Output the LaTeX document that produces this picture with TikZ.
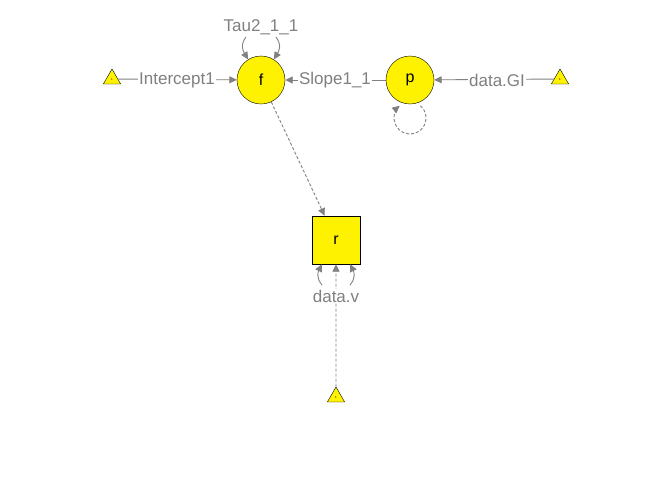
\documentclass[tikz,border=0pt]{standalone}
\usepackage{fontspec}
\setmainfont{Liberation Sans}
\usetikzlibrary{arrows.meta,shapes.geometric}
\definecolor{edgegray}{RGB}{128,128,128}
\tikzset{
  latent/.style={circle,draw=black,fill=yellow,minimum size=48pt,inner sep=0pt,font=\fontsize{16}{18}\selectfont},
  manifest/.style={rectangle,draw=black,fill=yellow,minimum size=48pt,inner sep=0pt,font=\fontsize{16}{18}\selectfont},
  const/.style={regular polygon,regular polygon sides=3,draw=black,fill=yellow,minimum size=20pt,inner sep=0pt,font=\fontsize{3}{3}\selectfont},
  elabel/.style={fill=white,inner sep=1pt,text=edgegray,font=\fontsize{17}{19}\selectfont},
  edge/.style={draw=edgegray,line width=0.9pt},
  tip/.style={-{Triangle[length=7.5pt,width=7pt]}},
  dashededge/.style={edge,dashed,dash pattern=on 3pt off 2pt}
}
\begin{document}
\begin{tikzpicture}[x=1pt,y=-1pt]
\useasboundingbox (0,0) rectangle (672,480);
% nodes
\node[latent] (f) at (261,80) {f};
\node[latent] (p) at (410,80) {p};
\node[manifest] (r) at (336,240) {r};
\node[const] (t1) at (112,79) {1};
\node[const] (t2) at (560,79) {1};
\node[const] (t3) at (336,397) {1};
% edges
\draw[edge,tip] (t1) -- (f);
\draw[edge,tip] (p) -- (f);
\draw[edge,tip] (t2) -- (p);
\draw[dashededge,tip] (f) -- (r);
\draw[dashededge,tip] (t3) -- (r);
% labels
\node[elabel] (lint) at (177,80) {Intercept1};
\node[elabel] (lslope) at (335,80) {Slope1\_1};
\node[elabel] (lgi) at (497,80) {data.GI};
\node[elabel] (ltau) at (261,27) {Tau2\_1\_1};
\node[elabel] (lv) at (336,296) {data.v};
% variance arcs
\coordinate (ta) at (246,37);
\coordinate (tb) at (276,37);
\draw[edge,tip] (ta) .. controls (240,45) and (243,51) .. (f.122);
\draw[edge,tip] (tb) .. controls (282,45) and (279,51) .. (f.58);
\coordinate (va) at (322,285);
\coordinate (vb) at (350,285);
\draw[edge,tip] (va) .. controls (316,278) and (318,272) .. (r.south west -| 322,0);
\draw[edge,tip] (vb) .. controls (356,278) and (354,272) .. (r.south east -| 350,0);
% self loop on p
\coordinate (ls) at (420.3,105.7);
\draw[dashededge,tip] (ls) arc[start angle=-50,end angle=230,radius=16];
\end{tikzpicture}
\end{document}
